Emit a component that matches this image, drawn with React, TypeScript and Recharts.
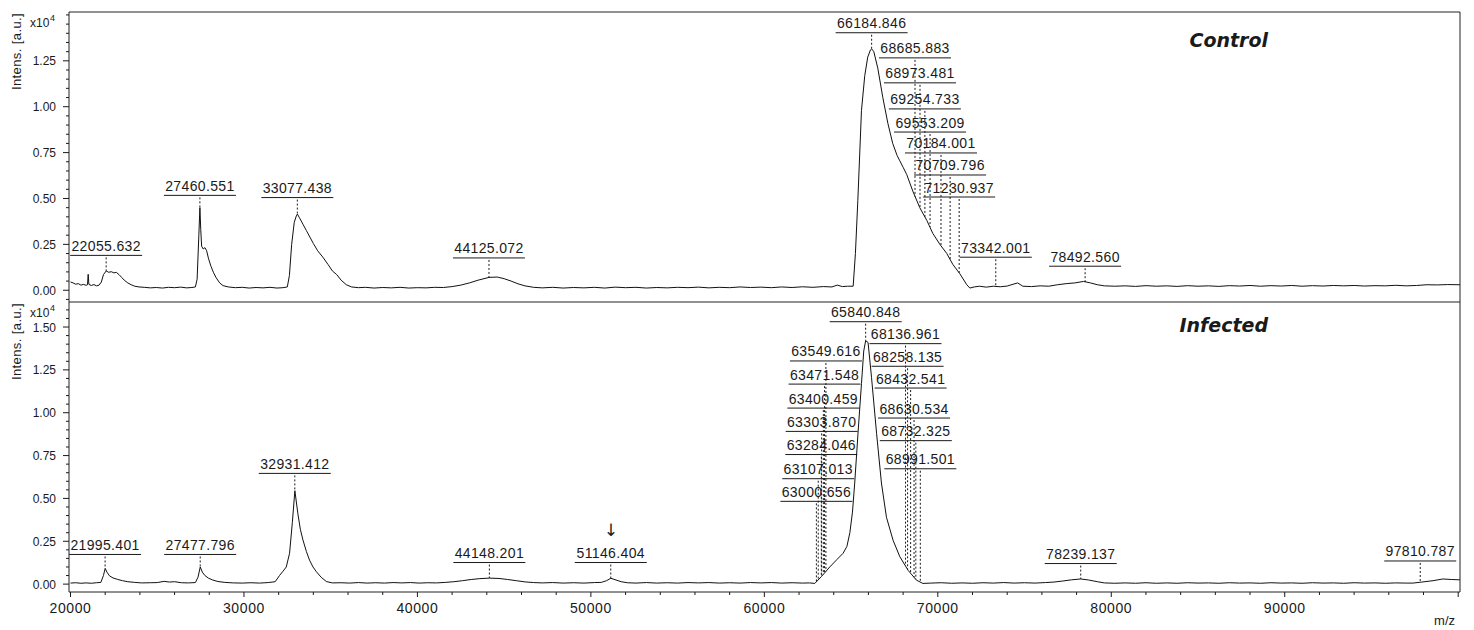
import React from "react";
import {
  ComposedChart,
  Line,
  Scatter,
  XAxis,
  YAxis,
  ReferenceArea,
  ReferenceLine,
} from "recharts";

// m/z vs intensity (x10^4 a.u.)
const controlSpectrum: [number, number][] = [
  [20000, 0.045], [20150, 0.040], [20300, 0.033], [20450, 0.036], [20600, 0.028],
  [20750, 0.032], [20900, 0.027], [20980, 0.030], [21020, 0.087], [21060, 0.032],
  [21200, 0.026], [21350, 0.031], [21500, 0.024], [21650, 0.028], [21780, 0.045],
  [21900, 0.085], [22060, 0.105], [22200, 0.098], [22350, 0.101], [22500, 0.095],
  [22650, 0.097], [22800, 0.085], [22950, 0.070], [23100, 0.055], [23300, 0.040],
  [23500, 0.030], [23700, 0.022], [23950, 0.018], [24250, 0.016], [24600, 0.013],
  [24950, 0.015], [25300, 0.012], [25650, 0.016], [26000, 0.014], [26350, 0.017],
  [26700, 0.013], [27000, 0.015], [27200, 0.018], [27300, 0.060], [27400, 0.300],
  [27460, 0.450], [27510, 0.330], [27560, 0.240], [27650, 0.225], [27750, 0.232],
  [27850, 0.215], [27950, 0.175], [28100, 0.130], [28250, 0.095], [28400, 0.068],
  [28600, 0.040], [28800, 0.025], [29100, 0.018], [29500, 0.014], [29900, 0.016],
  [30300, 0.012], [30700, 0.015], [31100, 0.013], [31500, 0.016], [31900, 0.012],
  [32250, 0.014], [32500, 0.018], [32620, 0.080], [32750, 0.250], [32900, 0.370],
  [33020, 0.405], [33080, 0.415], [33200, 0.395], [33400, 0.360], [33600, 0.325],
  [33800, 0.290], [34000, 0.255], [34250, 0.215], [34550, 0.180], [34850, 0.140],
  [35100, 0.105], [35350, 0.085], [35600, 0.055], [35900, 0.030], [36200, 0.018],
  [36600, 0.014], [37000, 0.016], [37500, 0.012], [38000, 0.015], [38500, 0.013],
  [39000, 0.016], [39500, 0.012], [40000, 0.014], [40500, 0.013], [41000, 0.016],
  [41500, 0.015], [42000, 0.020], [42500, 0.028], [43000, 0.040], [43500, 0.055],
  [44125, 0.070], [44600, 0.072], [45000, 0.063], [45400, 0.050], [45800, 0.035],
  [46200, 0.024], [46700, 0.016], [47200, 0.013], [47800, 0.016], [48400, 0.012],
  [49000, 0.015], [49600, 0.013], [50200, 0.016], [50800, 0.012], [51400, 0.017],
  [52000, 0.014], [52600, 0.016], [53200, 0.012], [53800, 0.015], [54400, 0.013],
  [55000, 0.016], [55600, 0.014], [56200, 0.017], [56800, 0.013], [57400, 0.016],
  [58000, 0.014], [58600, 0.018], [59200, 0.015], [59800, 0.017], [60400, 0.014],
  [61000, 0.018], [61600, 0.015], [62200, 0.019], [62800, 0.016], [63400, 0.020],
  [63900, 0.018], [64200, 0.028], [64500, 0.020], [64800, 0.022], [65120, 0.022],
  [65250, 0.200], [65390, 0.490], [65600, 0.980], [65790, 1.170], [65960, 1.270],
  [66120, 1.310], [66185, 1.315], [66310, 1.300], [66540, 1.210], [66830, 1.050],
  [67120, 0.910], [67400, 0.800], [67650, 0.735], [67810, 0.705], [68000, 0.670],
  [68210, 0.630], [68560, 0.540], [68960, 0.450], [69370, 0.380], [69710, 0.310],
  [70120, 0.250], [70520, 0.200], [70870, 0.140], [71270, 0.090], [71670, 0.030],
  [71850, 0.012], [72100, 0.018], [72400, 0.022], [72800, 0.017], [73200, 0.022],
  [73600, 0.019], [74000, 0.023], [74600, 0.040], [74900, 0.022], [75400, 0.020],
  [75900, 0.024], [76400, 0.022], [76900, 0.030], [77400, 0.036], [77900, 0.040],
  [78400, 0.048], [78800, 0.040], [79200, 0.030], [79600, 0.024], [80200, 0.022],
  [80800, 0.024], [81400, 0.021], [82000, 0.025], [82600, 0.022], [83200, 0.024],
  [83800, 0.021], [84400, 0.025], [85000, 0.022], [85600, 0.024], [86200, 0.021],
  [86800, 0.025], [87400, 0.023], [88000, 0.026], [88600, 0.022], [89200, 0.025],
  [89800, 0.023], [90400, 0.026], [91000, 0.022], [91600, 0.025], [92200, 0.023],
  [92800, 0.026], [93400, 0.024], [94000, 0.026], [94600, 0.023], [95200, 0.025],
  [95800, 0.024], [96400, 0.027], [97000, 0.024], [97600, 0.026], [98200, 0.030],
  [98800, 0.029], [99400, 0.031], [100100, 0.030],
];

const infectedSpectrum: [number, number][] = [
  [20000, 0.006], [20300, 0.008], [20600, 0.005], [20900, 0.007], [21200, 0.005],
  [21500, 0.008], [21750, 0.010], [21900, 0.050], [22000, 0.092], [22100, 0.070],
  [22250, 0.048], [22450, 0.036], [22700, 0.028], [23000, 0.020], [23300, 0.014],
  [23700, 0.010], [24100, 0.007], [24600, 0.008], [25000, 0.009], [25400, 0.016],
  [25700, 0.012], [26000, 0.014], [26400, 0.008], [26800, 0.007], [27200, 0.009],
  [27350, 0.040], [27480, 0.100], [27600, 0.070], [27750, 0.050], [27950, 0.035],
  [28200, 0.024], [28500, 0.015], [28900, 0.010], [29400, 0.007], [29900, 0.006],
  [30400, 0.008], [30900, 0.006], [31400, 0.009], [31800, 0.014], [32050, 0.050],
  [32250, 0.075], [32440, 0.100], [32630, 0.180], [32790, 0.360], [32935, 0.545],
  [33110, 0.410], [33250, 0.320], [33400, 0.258], [33600, 0.190], [33780, 0.140],
  [33980, 0.100], [34170, 0.073], [34450, 0.040], [34750, 0.015], [35100, 0.007],
  [35600, 0.008], [36100, 0.006], [36600, 0.009], [37100, 0.006], [37600, 0.008],
  [38100, 0.006], [38600, 0.009], [39100, 0.007], [39600, 0.009], [40100, 0.006],
  [40600, 0.008], [41100, 0.007], [41600, 0.010], [42100, 0.014], [42600, 0.020],
  [43100, 0.027], [43600, 0.032], [44150, 0.035], [44700, 0.033], [45200, 0.027],
  [45700, 0.020], [46200, 0.013], [46700, 0.009], [47200, 0.007], [47800, 0.009],
  [48400, 0.006], [49000, 0.008], [49600, 0.006], [50200, 0.009], [50600, 0.010],
  [50900, 0.020], [51150, 0.034], [51450, 0.024], [51750, 0.014], [52100, 0.008],
  [52600, 0.006], [53200, 0.009], [53800, 0.006], [54400, 0.008], [55000, 0.006],
  [55600, 0.009], [56200, 0.007], [56800, 0.009], [57400, 0.006], [58000, 0.008],
  [58600, 0.006], [59200, 0.009], [59800, 0.007], [60400, 0.009], [61000, 0.006],
  [61600, 0.008], [62200, 0.006], [62600, 0.007], [62910, 0.004], [63300, 0.045],
  [63770, 0.100], [64200, 0.145], [64540, 0.180], [64760, 0.220], [64930, 0.300],
  [65080, 0.420], [65210, 0.590], [65400, 0.880], [65600, 1.170], [65730, 1.360],
  [65840, 1.420], [65980, 1.410], [66180, 1.205], [66470, 0.880], [66750, 0.590],
  [67040, 0.390], [67420, 0.256], [67810, 0.160], [68290, 0.080], [68770, 0.023],
  [69140, 0.004], [69600, 0.006], [70200, 0.008], [70800, 0.005], [71400, 0.007],
  [72000, 0.005], [72600, 0.008], [73200, 0.006], [73800, 0.009], [74400, 0.006],
  [75000, 0.008], [75600, 0.006], [76200, 0.009], [76700, 0.012], [77200, 0.018],
  [77700, 0.025], [78240, 0.030], [78700, 0.024], [79200, 0.014], [79600, 0.007],
  [80200, 0.005], [80800, 0.007], [81400, 0.005], [82000, 0.008], [82600, 0.005],
  [83200, 0.007], [83800, 0.005], [84400, 0.008], [85000, 0.006], [85600, 0.007],
  [86200, 0.005], [86800, 0.008], [87400, 0.006], [88000, 0.007], [88600, 0.005],
  [89200, 0.008], [89800, 0.006], [90400, 0.007], [91000, 0.005], [91600, 0.008],
  [92200, 0.006], [92800, 0.007], [93400, 0.005], [94000, 0.008], [94600, 0.006],
  [95200, 0.007], [95800, 0.005], [96400, 0.007], [97000, 0.006], [97400, 0.006],
  [97900, 0.012], [98550, 0.020], [99120, 0.030], [99600, 0.027], [100100, 0.025],
];

// annotated peaks: m/z, apex intensity, height of the label row (x10^4 a.u.)
const controlPeakMz = [
  22055.632, 27460.551, 33077.438, 44125.072, 66184.846, 68685.883, 68973.481,
  69254.733, 69553.209, 70184.001, 70709.796, 71230.937, 73342.001, 78492.56,
];
const controlPeakApex = [
  0.105, 0.45, 0.415, 0.07, 1.315, 0.51, 0.447, 0.4, 0.345, 0.242, 0.17, 0.095, 0.022, 0.045,
];
const controlLabelRow = [
  0.19, 0.517, 0.505, 0.176, 1.403, 1.266, 1.13, 0.988, 0.862, 0.748, 0.628, 0.508, 0.18, 0.131,
];

const infectedPeakMz = [
  21995.401, 27477.796, 32931.412, 44148.201, 51146.404, 63000.656, 63107.013,
  63284.046, 63303.87, 63400.459, 63471.548, 63549.616, 65840.848, 68136.961,
  68258.135, 68432.541, 68630.534, 68732.325, 68991.501, 78239.137, 97810.787,
];
const infectedPeakApex = [
  0.092, 0.1, 0.545, 0.035, 0.034, 0.013, 0.025, 0.044, 0.045, 0.057, 0.065, 0.074,
  1.42, 0.106, 0.085, 0.063, 0.04, 0.028, 0.012, 0.03, 0.011,
];
const infectedLabelRow = [
  0.173, 0.173, 0.646, 0.126, 0.126, 0.483, 0.615, 0.756, 0.891, 1.027, 1.167, 1.302,
  1.531, 1.403, 1.271, 1.144, 0.969, 0.837, 0.673, 0.12, 0.135,
];
const infectedArrowed = [51146.404];

const controlYLabels = [0, 0.25, 0.5, 0.75, 1.0, 1.25];
const infectedYLabels = [0, 0.25, 0.5, 0.75, 1.0, 1.25, 1.5];
const xLabels = [20000, 30000, 40000, 50000, 60000, 70000, 80000, 90000];

const X_DOMAIN: [number, number] = [19914, 100104];
const FONT = "'Liberation Sans', Arial, sans-serif";
const INK = "#1a1a1a";

function minorTicks(lo: number, hi: number, step: number) {
  const out: number[] = [];
  for (let i = Math.ceil(lo / step - 1e-9); i * step <= hi + 1e-9; i++) {
    out.push(Math.round(i * step * 1000) / 1000);
  }
  return out;
}

function YTick(props: any) {
  const { x, y, payload, labels } = props;
  const v = payload.value;
  const major = labels.some((l: number) => Math.abs(l - v) < 1e-6);
  return (
    <g>
      <line x1={x - (major ? 6 : 3)} x2={x} y1={y} y2={y} stroke={INK} />
      {major && (
        <text x={x - 13} y={y + 4.5} textAnchor="end" fontSize={12} fontFamily={FONT} fill={INK}>
          {v.toFixed(2)}
        </text>
      )}
    </g>
  );
}

function XTick(props: any) {
  const { x, y, payload } = props;
  const v = payload.value;
  const major = v % 10000 === 0;
  return (
    <g>
      <line x1={x} x2={x} y1={y} y2={y + (major ? 5 : 3)} stroke={INK} />
      {xLabels.includes(v) && (
        <text x={x} y={y + 21} textAnchor="middle" fontSize={14} letterSpacing={0.6} fontFamily={FONT} fill={INK}>
          {v}
        </text>
      )}
    </g>
  );
}

function YTitle(props: any) {
  const top = props.viewBox?.y ?? 0;
  const cy = top + 39.5;
  return (
    <g fontFamily={FONT} fill={INK}>
      <text x={21} y={cy} transform={`rotate(-90, 21, ${cy})`} textAnchor="middle" fontSize={13} letterSpacing={0.4}>
        Intens. [a.u.]
      </text>
      <text x={30} y={top + 15} fontSize={12}>x10</text>
      <text x={50} y={top + 9} fontSize={9}>4</text>
    </g>
  );
}

function XTitle(props: any) {
  const vb = props.viewBox ?? { x: 0, y: 0, width: 0 };
  return (
    <text x={vb.x + vb.width - 5} y={vb.y + 33} textAnchor="end" fontSize={13} fontFamily={FONT} fill={INK}>
      m/z
    </text>
  );
}

function PanelTitle(props: any) {
  const vb = props.viewBox ?? { x: 0, y: 0, width: 0 };
  return (
    <text
      x={vb.x + vb.width - 192}
      y={vb.y + props.dy}
      textAnchor="end"
      fontSize={19}
      fontWeight="bold"
      fontStyle="italic"
      fontFamily="'DejaVu Sans', Verdana, sans-serif"
      fill={INK}
    >
      {props.text}
    </text>
  );
}

function PeakLabel(props: any) {
  const { cx, cy, payload } = props;
  const text = payload.mz.toFixed(3);
  const w = text.length * 8;
  return (
    <g>
      {payload.arrow && (
        <text x={cx} y={cy - 27} textAnchor="middle" fontSize={17} fontFamily="'DejaVu Sans', sans-serif" fill={INK}>
          ↓
        </text>
      )}
      <text x={cx} y={cy - 4.5} textAnchor="middle" fontSize={14} letterSpacing={0.35} fontFamily={FONT} fill={INK}>
        {text}
      </text>
      <line x1={cx - w / 2} x2={cx + w / 2} y1={cy} y2={cy} stroke={INK} />
    </g>
  );
}

interface PanelProps {
  spectrum: [number, number][];
  peakMz: number[];
  peakApex: number[];
  labelRow: number[];
  arrowed?: number[];
  yDomain: [number, number];
  yLabels: number[];
  title: string;
  titleDy: number;
  height: number;
  marginTop: number;
  showX: boolean;
}

function SpectrumPanel(p: PanelProps) {
  const points = p.spectrum.map(([mz, v]) => ({ mz, v }));
  const labels = p.peakMz.map((mz, i) => ({
    mz,
    v: p.labelRow[i],
    apex: p.peakApex[i],
    arrow: (p.arrowed ?? []).includes(mz),
  }));
  const yTicks = minorTicks(p.yDomain[0], p.yDomain[1], 0.05);
  const xTicks = minorTicks(20000, 100000, 2000);

  return (
    <ComposedChart width={1474} height={p.height} margin={{ top: p.marginTop, right: 14, bottom: 0, left: 0 }}>
      <XAxis
        type="number"
        dataKey="mz"
        domain={X_DOMAIN}
        allowDataOverflow
        hide={!p.showX}
        height={38}
        ticks={xTicks}
        interval={0}
        tick={<XTick />}
        tickLine={false}
        axisLine={false}
        tickSize={0}
        tickMargin={0}
        label={<XTitle />}
      />
      <YAxis
        type="number"
        dataKey="v"
        domain={p.yDomain}
        allowDataOverflow
        width={69}
        ticks={yTicks}
        interval={0}
        tick={<YTick labels={p.yLabels} />}
        tickLine={false}
        axisLine={false}
        tickSize={0}
        tickMargin={0}
        label={<YTitle />}
      />
      <ReferenceArea
        x1={X_DOMAIN[0]}
        x2={X_DOMAIN[1]}
        y1={p.yDomain[0]}
        y2={p.yDomain[1]}
        fill="none"
        fillOpacity={0}
        stroke="#222"
        strokeWidth={1}
        label={<PanelTitle text={p.title} dy={p.titleDy} />}
      />
      {labels.map((l) => (
        <ReferenceLine
          key={l.mz}
          segment={[{ x: l.mz, y: l.v }, { x: l.mz, y: l.apex }]}
          stroke={INK}
          strokeDasharray="2 2"
          strokeDashoffset={2}
        />
      ))}
      <Line
        data={points}
        dataKey="v"
        type="linear"
        dot={false}
        activeDot={false}
        stroke="#111"
        strokeWidth={1}
        isAnimationActive={false}
      />
      <Scatter data={labels} dataKey="v" shape={<PeakLabel />} isAnimationActive={false} />
    </ComposedChart>
  );
}

export default function App() {
  return (
    <div style={{ position: "absolute", left: 0, top: 0, width: 1474, height: 630, background: "#fff" }}>
      <div style={{ position: "absolute", left: 0, top: 0 }}>
        <SpectrumPanel
          spectrum={controlSpectrum}
          peakMz={controlPeakMz}
          peakApex={controlPeakApex}
          labelRow={controlLabelRow}
          yDomain={[-0.064, 1.516]}
          yLabels={controlYLabels}
          title="Control"
          titleDy={35}
          height={302}
          marginTop={12}
          showX={false}
        />
      </div>
      <div style={{ position: "absolute", left: 0, top: 302 }}>
        <SpectrumPanel
          spectrum={infectedSpectrum}
          peakMz={infectedPeakMz}
          peakApex={infectedPeakApex}
          labelRow={infectedLabelRow}
          arrowed={infectedArrowed}
          yDomain={[-0.046, 1.646]}
          yLabels={infectedYLabels}
          title="Infected"
          titleDy={30}
          height={328}
          marginTop={0}
          showX={true}
        />
      </div>
    </div>
  );
}
